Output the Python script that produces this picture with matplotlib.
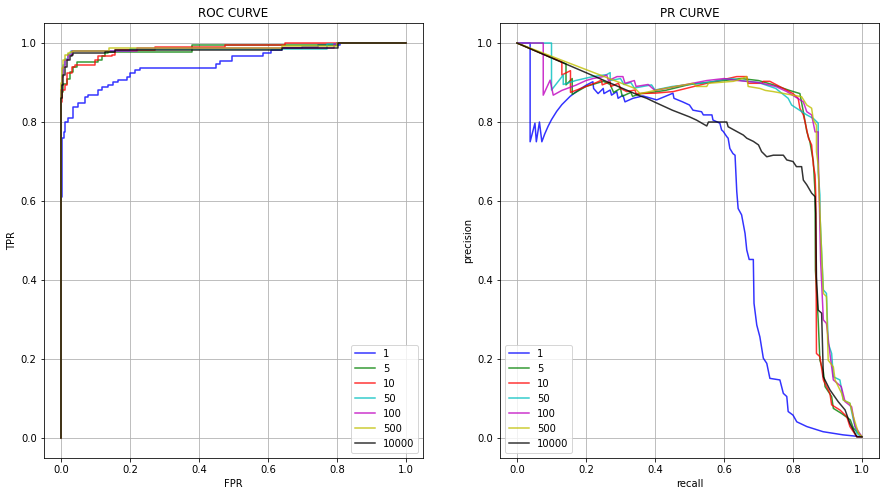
import matplotlib
matplotlib.use("Agg")
import matplotlib.pyplot as plt

labels = ["1", "5", "10", "50", "100", "500", "10000"]
colors = ["b", "g", "r", "c", "m", "y", "k"]

# ROC curves (fpr, tpr) -- staircase corners
roc_fpr_1 = [0, 0.002, 0.004, 0.008, 0.012, 0.021, 0.036, 0.05, 0.07, 0.079, 0.108, 0.118, 0.137, 0.152,
             0.166, 0.19, 0.20, 0.214, 0.229, 0.292, 0.45, 0.46, 0.495, 0.585, 0.61, 0.64, 0.70, 0.745, 0.81, 1.0]
roc_tpr_1 = [0, 0.61, 0.73, 0.76, 0.775, 0.80, 0.809, 0.839, 0.847, 0.864, 0.868, 0.881, 0.889, 0.894,
             0.902, 0.906, 0.915, 0.924, 0.932, 0.936, 0.937, 0.948, 0.955, 0.968, 0.974, 0.982, 0.987, 0.991, 0.995, 1.0]
roc_fpr_5 = [0, 0.002, 0.007, 0.016, 0.026, 0.036, 0.045, 0.108, 0.118, 0.128, 0.137, 0.38, 0.80, 1.0]
roc_tpr_5 = [0, 0.86, 0.877, 0.895, 0.91, 0.927, 0.94, 0.953, 0.957, 0.966, 0.974, 0.978, 0.995, 1.0]
roc_fpr_10 = [0, 0.002, 0.012, 0.016, 0.031, 0.041, 0.099, 0.108, 0.148, 0.157, 0.272, 0.475, 0.649, 1.0]
roc_tpr_10 = [0, 0.85, 0.88, 0.894, 0.923, 0.94, 0.944, 0.957, 0.966, 0.97, 0.982, 0.991, 0.995, 1.0]
roc_fpr_50 = [0, 0.002, 0.007, 0.012, 0.02, 0.03, 0.2, 0.77, 0.80, 1.0]
roc_tpr_50 = [0, 0.88, 0.92, 0.945, 0.96, 0.972, 0.98, 0.985, 0.997, 1.0]
roc_fpr_100 = [0, 0.002, 0.007, 0.012, 0.02, 0.031, 0.22, 0.79, 0.80, 1.0]
roc_tpr_100 = [0, 0.88, 0.915, 0.94, 0.958, 0.97, 0.98, 0.987, 0.997, 1.0]
roc_fpr_500 = [0, 0.002, 0.007, 0.012, 0.021, 0.026, 0.036, 0.14, 0.64, 0.80, 1.0]
roc_tpr_500 = [0, 0.90, 0.936, 0.957, 0.97, 0.974, 0.978, 0.98, 0.987, 0.993, 1.0]
roc_fpr_10000 = [0, 0.002, 0.007, 0.012, 0.016, 0.026, 0.031, 0.036, 0.128, 0.157, 0.64, 0.804, 1.0]
roc_tpr_10000 = [0, 0.86, 0.894, 0.919, 0.94, 0.957, 0.966, 0.97, 0.974, 0.978, 0.982, 0.987, 1.0]

# PR curves (recall, precision)
pr_rec_1 = [0, 0.038, 0.038, 0.052, 0.056, 0.065, 0.072, 0.08, 0.09, 0.10, 0.115, 0.13, 0.154, 0.18, 0.20, 0.22,
            0.222, 0.235, 0.25, 0.252, 0.27, 0.274, 0.289, 0.293, 0.307, 0.313, 0.336, 0.365, 0.405, 0.43, 0.452,
            0.455, 0.48, 0.50, 0.51, 0.535, 0.54, 0.565, 0.568, 0.588, 0.593, 0.598, 0.608, 0.612, 0.617, 0.626,
            0.632, 0.637, 0.641, 0.651, 0.661, 0.666, 0.673, 0.685, 0.687, 0.695, 0.704, 0.714, 0.724, 0.733,
            0.762, 0.772, 0.782, 0.786, 0.80, 0.811, 0.84, 0.887, 0.945, 1.0]
pr_prec_1 = [1.0, 1.0, 0.75, 0.797, 0.75, 0.80, 0.75, 0.769, 0.789, 0.806, 0.827, 0.844, 0.865, 0.882, 0.893, 0.902,
             0.885, 0.872, 0.885, 0.872, 0.881, 0.868, 0.877, 0.86, 0.868, 0.851, 0.86, 0.866, 0.856, 0.865, 0.873,
             0.86, 0.851, 0.843, 0.83, 0.826, 0.818, 0.818, 0.805, 0.797, 0.78, 0.776, 0.763, 0.759, 0.733, 0.72,
             0.716, 0.624, 0.581, 0.565, 0.518, 0.476, 0.452, 0.452, 0.341, 0.286, 0.256, 0.202, 0.189, 0.151,
             0.147, 0.113, 0.105, 0.067, 0.058, 0.041, 0.029, 0.016, 0.008, 0.003]
pr_rec_5 = [0, 0.142, 0.142, 0.16, 0.16, 0.2, 0.25, 0.27, 0.28, 0.30, 0.305, 0.33, 0.335, 0.36, 0.39, 0.43, 0.5,
            0.6, 0.65, 0.7, 0.74, 0.79, 0.82, 0.83, 0.84, 0.849, 0.859, 0.864, 0.865, 0.873, 0.878, 0.888, 0.893,
            0.912, 0.917, 0.941, 0.966, 0.975, 1.0]
pr_prec_5 = [1.0, 0.947, 0.894, 0.91, 0.87, 0.89, 0.903, 0.895, 0.875, 0.885, 0.865, 0.875, 0.865, 0.872, 0.875,
             0.88, 0.895, 0.905, 0.91, 0.905, 0.895, 0.88, 0.872, 0.826, 0.776, 0.75, 0.70, 0.62, 0.425, 0.299,
             0.197, 0.168, 0.13, 0.105, 0.075, 0.062, 0.046, 0.025, 0.003]
pr_rec_10 = [0, 0.10, 0.13, 0.13, 0.155, 0.155, 0.2, 0.23, 0.245, 0.247, 0.27, 0.272, 0.294, 0.30, 0.318, 0.342,
             0.345, 0.40, 0.453, 0.55, 0.637, 0.666, 0.67, 0.709, 0.714, 0.733, 0.772, 0.80, 0.815, 0.82, 0.83,
             0.835, 0.845, 0.854, 0.859, 0.864, 0.866, 0.868, 0.878, 0.888, 0.907, 0.912, 0.936, 0.956, 0.965,
             0.985, 1.0]
pr_prec_10 = [1.0, 0.963, 0.952, 0.919, 0.93, 0.875, 0.89, 0.90, 0.906, 0.894, 0.902, 0.89, 0.898, 0.885, 0.877,
              0.881, 0.872, 0.873, 0.877, 0.898, 0.915, 0.915, 0.898, 0.898, 0.903, 0.903, 0.885, 0.872, 0.86,
              0.835, 0.818, 0.80, 0.759, 0.742, 0.691, 0.666, 0.615, 0.214, 0.206, 0.147, 0.113, 0.084, 0.071,
              0.054, 0.029, 0.003, 0.003]
pr_rec_50 = [0, 0.10, 0.10, 0.134, 0.134, 0.17, 0.22, 0.26, 0.27, 0.27, 0.30, 0.31, 0.33, 0.34, 0.39, 0.40, 0.45,
             0.55, 0.62, 0.65, 0.70, 0.75, 0.786, 0.796, 0.81, 0.84, 0.859, 0.873, 0.873, 0.878, 0.878, 0.888,
             0.897, 0.902, 0.912, 0.917, 0.936, 0.946, 0.965, 0.975, 0.985, 1.0]
pr_prec_50 = [1.0, 1.0, 0.881, 0.919, 0.895, 0.905, 0.915, 0.92, 0.925, 0.905, 0.91, 0.895, 0.90, 0.886, 0.894,
              0.881, 0.89, 0.90, 0.91, 0.905, 0.90, 0.885, 0.86, 0.843, 0.835, 0.818, 0.809, 0.797, 0.674, 0.615,
              0.569, 0.375, 0.366, 0.24, 0.214, 0.155, 0.147, 0.096, 0.088, 0.046, 0.012, 0.003]
pr_rec_100 = [0, 0.076, 0.076, 0.096, 0.105, 0.13, 0.17, 0.20, 0.22, 0.25, 0.26, 0.265, 0.29, 0.307, 0.313, 0.34,
              0.345, 0.38, 0.40, 0.45, 0.55, 0.60, 0.64, 0.70, 0.75, 0.782, 0.83, 0.84, 0.854, 0.864, 0.873,
              0.873, 0.876, 0.88, 0.888, 0.897, 0.907, 0.917, 0.94, 0.951, 0.97, 0.98, 1.0]
pr_prec_100 = [1.0, 1.0, 0.868, 0.906, 0.868, 0.88, 0.893, 0.905, 0.91, 0.915, 0.919, 0.905, 0.915, 0.915, 0.898,
               0.905, 0.89, 0.895, 0.88, 0.888, 0.905, 0.91, 0.905, 0.90, 0.89, 0.877, 0.851, 0.826, 0.818, 0.775,
               0.775, 0.725, 0.615, 0.45, 0.299, 0.29, 0.214, 0.147, 0.13, 0.092, 0.079, 0.029, 0.003]
pr_rec_500 = [0, 0.342, 0.357, 0.405, 0.453, 0.511, 0.52, 0.55, 0.555, 0.627, 0.64, 0.666, 0.67, 0.704, 0.72,
              0.743, 0.825, 0.84, 0.854, 0.859, 0.868, 0.868, 0.873, 0.876, 0.883, 0.888, 0.897, 0.902, 0.917,
              0.922, 0.941, 0.946, 0.965, 0.975, 0.99, 1.0]
pr_prec_500 = [1.0, 0.885, 0.872, 0.881, 0.889, 0.898, 0.89, 0.89, 0.898, 0.903, 0.906, 0.915, 0.89, 0.885, 0.88,
               0.877, 0.864, 0.843, 0.835, 0.805, 0.792, 0.725, 0.691, 0.615, 0.468, 0.366, 0.358, 0.197, 0.18,
               0.147, 0.113, 0.096, 0.088, 0.054, 0.012, 0.003]
pr_rec_10000 = [0, 0.357, 0.376, 0.40, 0.45, 0.50, 0.52, 0.55, 0.555, 0.588, 0.608, 0.612, 0.637, 0.656, 0.666,
                0.685, 0.70, 0.709, 0.724, 0.743, 0.772, 0.782, 0.80, 0.81, 0.825, 0.83, 0.84, 0.854, 0.864, 0.866,
                0.868, 0.873, 0.883, 0.888, 0.907, 0.931, 0.951, 0.965, 0.985, 1.0]
pr_prec_10000 = [1.0, 0.866, 0.86, 0.85, 0.83, 0.813, 0.805, 0.79, 0.80, 0.80, 0.80, 0.788, 0.776, 0.767, 0.759,
                 0.751, 0.742, 0.725, 0.712, 0.716, 0.716, 0.704, 0.70, 0.687, 0.687, 0.653, 0.641, 0.62, 0.611,
                 0.569, 0.408, 0.324, 0.316, 0.155, 0.122, 0.092, 0.071, 0.037, 0.003, 0.003]

roc_data = [(roc_fpr_1, roc_tpr_1), (roc_fpr_5, roc_tpr_5), (roc_fpr_10, roc_tpr_10), (roc_fpr_50, roc_tpr_50),
            (roc_fpr_100, roc_tpr_100), (roc_fpr_500, roc_tpr_500), (roc_fpr_10000, roc_tpr_10000)]
pr_data = [(pr_rec_1, pr_prec_1), (pr_rec_5, pr_prec_5), (pr_rec_10, pr_prec_10), (pr_rec_50, pr_prec_50),
           (pr_rec_100, pr_prec_100), (pr_rec_500, pr_prec_500), (pr_rec_10000, pr_prec_10000)]

fig = plt.figure(figsize=(891 / 72, 496 / 72), dpi=72)
ax1 = fig.add_axes([0.0491, 0.0771, 0.4259, 0.876])
ax2 = fig.add_axes([0.5609, 0.0771, 0.4259, 0.876])

for (x, y), c, lab in zip(roc_data, colors, labels):
    ax1.plot(x, y, color=c, label=lab, drawstyle="steps-pre", alpha=0.8, lw=1.5)
ax1.set_title("ROC CURVE")
ax1.set_xlabel("FPR")
ax1.set_ylabel("TPR")
ax1.grid(True)
ax1.legend(loc="lower right")

for (x, y), c, lab in zip(pr_data, colors, labels):
    ax2.plot(x, y, color=c, label=lab, alpha=0.8, lw=1.5)
ax2.set_title("PR CURVE")
ax2.set_xlabel("recall")
ax2.set_ylabel("precision")
ax2.grid(True)
ax2.legend(loc="lower left")

for ax in (ax1, ax2):
    ax.set_xlim(-0.05, 1.05)
    ax.set_ylim(-0.05, 1.05)

fig.savefig("out.png", dpi=72)
